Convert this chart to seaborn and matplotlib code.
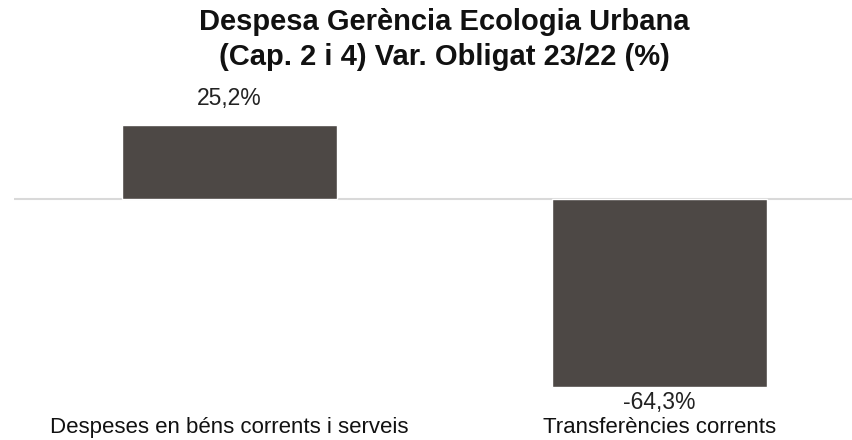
import matplotlib
matplotlib.use("Agg")
import matplotlib.pyplot as plt
import seaborn as sns
import pandas as pd

categories = ["Despeses en béns corrents i serveis", "Transferències corrents"]
variation_pct = [25.2, -64.3]
title_lines = ["Despesa Gerència Ecologia Urbana", "(Cap. 2 i 4) Var. Obligat 23/22 (%)"]

bar_color = "#4d4845"

sns.set_theme(style="white")
plt.rcParams["font.family"] = ["Liberation Sans", "DejaVu Sans"]

df = pd.DataFrame({"categoria": categories, "variacio": variation_pct})

fig = plt.figure(figsize=(8.53, 4.40), dpi=100)
ax = fig.add_axes([14 / 853, 36 / 440, 861 / 853, 293 / 440])

sns.barplot(data=df, x="categoria", y="variacio", color=bar_color,
            width=0.5, saturation=1, ax=ax)

ax.set_xlim(-0.5, 1.5)
ax.set_ylim(-70, 30)
ax.axhline(0, color="#d9d9d9", lw=1.5, zorder=0.5)

for i, v in enumerate(df["variacio"]):
    txt = f"{v:.1f}%".replace(".", ",")
    if v >= 0:
        ax.annotate(txt, xy=(i, v), xytext=(0, 11), textcoords="offset points",
                    ha="center", va="bottom", fontsize=16.5, color="#222222")
    else:
        ax.annotate(txt, xy=(i, v), xytext=(0, -3), textcoords="offset points",
                    ha="center", va="top", fontsize=16.5, color="#222222")

ax.set_xlabel("")
ax.set_ylabel("")
ax.set_yticks([])
ax.tick_params(axis="x", length=0, pad=9, labelsize=16, labelcolor="#111111")
for s in ax.spines.values():
    s.set_visible(False)

fig.text(444 / 853, 1 - 22 / 440, title_lines[0], ha="center", va="center",
         fontsize=21, fontweight="bold", color="#111111")
fig.text(444 / 853, 1 - 57 / 440, title_lines[1], ha="center", va="center",
         fontsize=21, fontweight="bold", color="#111111")

fig.savefig("out.png", dpi=100)
